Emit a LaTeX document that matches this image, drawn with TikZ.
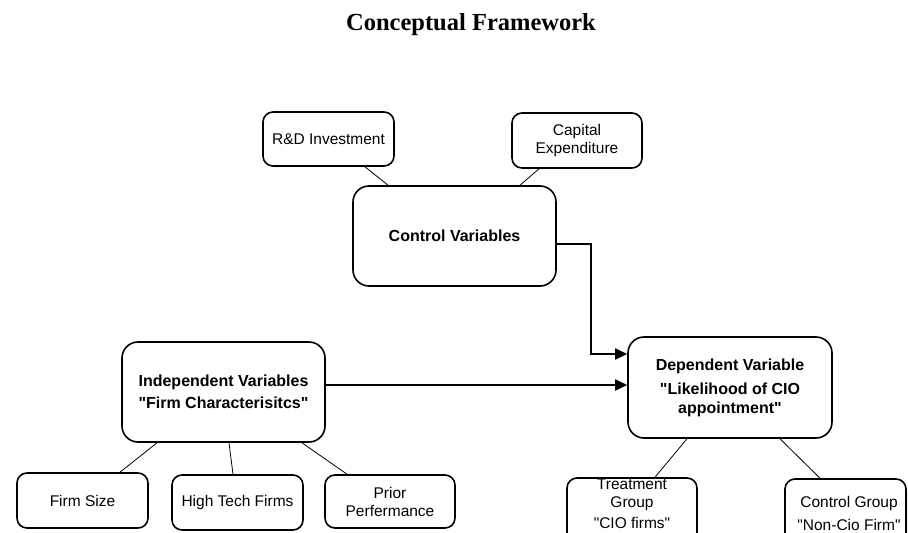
\documentclass[tikz,border=0pt]{standalone}
\usepackage{fontspec}
\setmainfont{Liberation Sans}[Ligatures=TeXOff]
\newfontfamily\titlefont{Liberation Serif}
\usetikzlibrary{arrows.meta}
\newcommand{\dq}{\symbol{34}}
\begin{document}
\begin{tikzpicture}[x=1pt,y=-1pt,
 box/.style={draw, line width=1.6pt, rounded corners=10pt, align=center, inner sep=0pt, font=\fontsize{15.5}{18}\selectfont},
 bigbox/.style={box, rounded corners=16pt, font=\fontsize{16}{19}\selectfont\bfseries},
 link/.style={line width=0.8pt},
 arr/.style={line width=1.8pt, -{Triangle[length=12pt,width=11pt]}},
 lbl/.style={align=center, inner sep=0pt, font=\fontsize{15.5}{18}\selectfont}]
\clip (0,0) rectangle (908,533);
\node[font=\titlefont\fontsize{24.5}{28}\selectfont\bfseries] (title) at (471,25) {Conceptual Framework};

% control branch
\node[box, minimum width=131pt, minimum height=54pt] (rd) at (328.5,139) {R\&D Investment};
\node[box, minimum width=130pt, minimum height=55pt] (cap) at (577,140.5) {Capital\\Expenditure};
\node[bigbox, minimum width=203pt, minimum height=100pt] (ctrl) at (454.5,236) {Control Variables};

% independent branch
\node[bigbox, minimum width=203pt, minimum height=100pt] (ind) at (223.5,392) {Independent Variables\\[3pt]\dq Firm Characterisitcs\dq};
\node[box, minimum width=131pt, minimum height=55pt] (firm) at (82.5,500.5) {Firm Size};
\node[box, minimum width=131pt, minimum height=55pt] (high) at (237.5,502.5) {High Tech Firms};
\node[box, minimum width=130pt, minimum height=53pt] (prior) at (390,501.5) {Prior\\Perfermance};

% dependent branch
\node[bigbox, minimum width=204pt, minimum height=101pt] (dep) at (730,387.5) {Dependent Variable\\[5pt]\dq Likelihood of CIO\\appointment\dq};
\node[box, minimum width=130pt, minimum height=70pt] (treat) at (632,513) {};
\node[lbl] (treattxt) at (632,503.5) {Treatment\\Group\\[3pt]\dq CIO firms\dq};
\node[box, minimum width=121pt, minimum height=70pt] (cg) at (845.5,514) {};
\node[lbl] (cgtxt) at (849,513) {Control Group\\[5pt]\dq Non-Cio Firm\dq};

% thin links
\draw[link] (rd.south -| 365,0) -- (ctrl.north -| 388,0);
\draw[link] (cap.south -| 539,0) -- (ctrl.north -| 520,0);
\draw[link] (ind.south -| 157,0) -- (firm.north -| 120,0);
\draw[link] (ind.south -| 229,0) -- (high.north -| 233,0);
\draw[link] (ind.south -| 302,0) -- (prior.north -| 347,0);
\draw[link] (dep.south -| 687,0) -- (treat.north -| 655,0);
\draw[link] (dep.south -| 780,0) -- (cg.north -| 820,0);

% arrows
\coordinate (bend) at (591,300);
\draw[arr] ([yshift=-8pt]ctrl.east) -| (bend) |- ([yshift=33.5pt]dep.west);
\draw[arr] ([yshift=7pt]ind.east) -- ([yshift=7pt]ind.east -| dep.west);
\end{tikzpicture}
\end{document}
